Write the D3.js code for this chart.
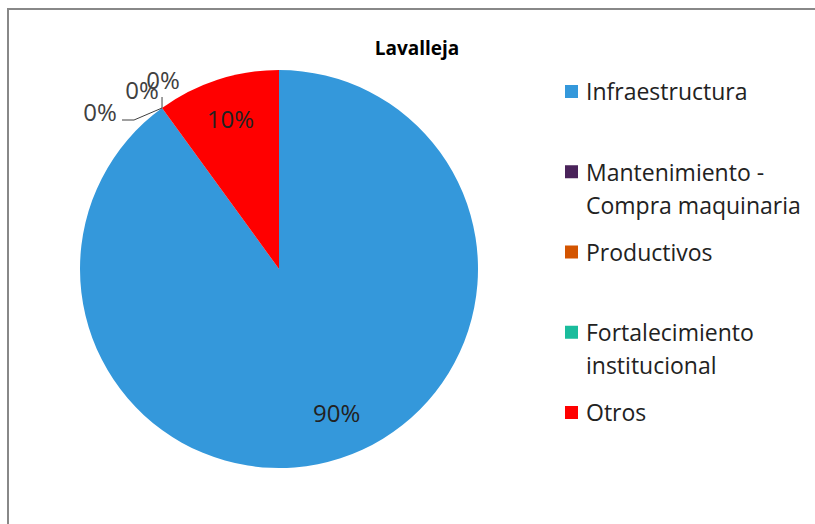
<!DOCTYPE html>
<html>
<head>
<meta charset="utf-8">
<script src="https://cdn.jsdelivr.net/npm/d3@7"></script>
<style>
  body { margin: 0; background: #fff; }
  svg text { font-family: "Open Sans", sans-serif; }
</style>
</head>
<body>
<svg id="chart" width="815" height="524"></svg>
<script>
// chart data
const title = "Lavalleja";
const categories = ["Infraestructura", "Mantenimiento - Compra maquinaria", "Productivos", "Fortalecimiento institucional", "Otros"];
const legendLines = [["Infraestructura"], ["Mantenimiento -", "Compra maquinaria"], ["Productivos"], ["Fortalecimiento", "institucional"], ["Otros"]];
const values = [90, 0, 0, 0, 10];
const colors = ["#3498db", "#4a235a", "#d35400", "#1abc9c", "#ff0000"];

const svg = d3.select("#chart");

// frame of the chart area (cut by the window on right and bottom)
svg.append("rect")
  .attr("x", 8).attr("y", 9)
  .attr("width", 830).attr("height", 540)
  .attr("fill", "#fff")
  .attr("stroke", "#888")
  .attr("stroke-width", 2);

// title
svg.append("text")
  .attr("x", 417).attr("y", 55)
  .attr("text-anchor", "middle")
  .attr("font-size", 19)
  .attr("font-weight", "bold")
  .attr("fill", "#000")
  .text(title);

// pie
const cx = 279, cy = 269, r = 199;
const g = svg.append("g").attr("transform", `translate(${cx},${cy})`);

const pie = d3.pie().sort(null).value(d => d)(values);
const arc = d3.arc().innerRadius(0).outerRadius(r);

g.selectAll("path")
  .data(pie)
  .join("path")
  .attr("d", arc)
  .attr("fill", (d, i) => colors[i]);

const total = d3.sum(values);
const fmt = v => Math.round(v / total * 100) + "%";

// labels for the non-zero slices, inside the pie
const inner = d3.arc().innerRadius(r * 0.79).outerRadius(r * 0.79);
g.selectAll("text.inside")
  .data(pie.filter(d => d.value > 0))
  .join("text")
  .attr("class", "inside")
  .attr("transform", d => {
    const [x, y] = inner.centroid(d);
    return `translate(${x + (d.index === 0 ? 9 : 0)},${y - (d.index === 0 ? 5 : 0)})`;
  })
  .attr("text-anchor", "middle")
  .attr("dy", "0.36em")
  .attr("font-size", 24)
  .attr("fill", "#222")
  .text(d => fmt(d.value));

// labels for the zero slices, pushed outside with leader lines
const zeroOffsets = [
  { dx: -62, dy: 4, line: [[-28, 12], [-40, 12]] },
  { dx: -20, dy: -18, line: [[0, -11]] },
  { dx: 1, dy: -28, line: [] }
];
const zeros = pie.filter(d => d.value === 0);
zeros.forEach((d, k) => {
  const a = d.startAngle;
  const px = Math.sin(a) * r, py = -Math.cos(a) * r;
  const o = zeroOffsets[k];
  if (o.line.length) {
    const pts = [[px, py]].concat(o.line.map(p => [px + p[0], py + p[1]]));
    g.append("path")
      .attr("d", d3.line()(pts))
      .attr("fill", "none")
      .attr("stroke", "#404040")
      .attr("stroke-width", 1);
  }
  g.append("text")
    .attr("x", px + o.dx).attr("y", py + o.dy)
    .attr("text-anchor", "middle")
    .attr("dy", "0.36em")
    .attr("font-size", 24)
    .attr("fill", "#404040")
    .text(fmt(d.value));
});

// legend
const legendY = d3.scaleLinear().domain([0, categories.length - 1]).range([92, 413]);
const leg = svg.append("g");
categories.forEach((c, i) => {
  const y = legendY(i);
  leg.append("rect")
    .attr("x", 565).attr("y", y - 7)
    .attr("width", 13).attr("height", 13)
    .attr("fill", colors[i]);
  leg.append("text")
    .attr("x", 586).attr("y", y)
    .attr("font-size", 23)
    .attr("fill", "#222")
    .selectAll("tspan")
    .data(legendLines[i])
    .join("tspan")
    .attr("x", 586)
    .attr("dy", (t, j) => j === 0 ? "0.36em" : 33)
    .text(t => t);
});
</script>
</body>
</html>
